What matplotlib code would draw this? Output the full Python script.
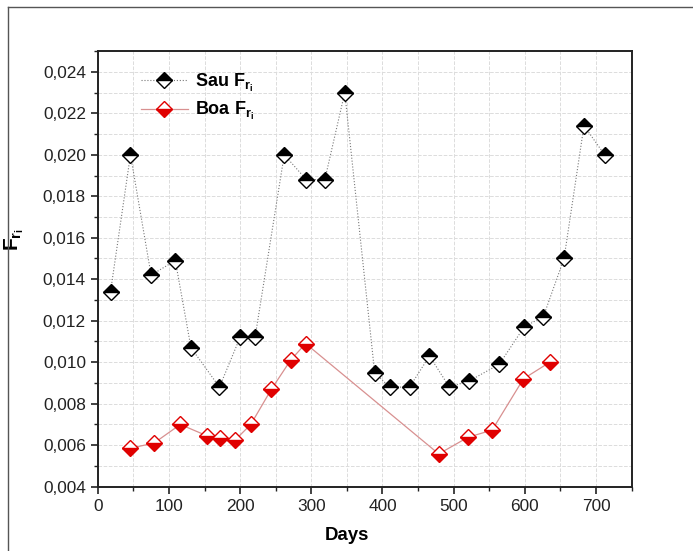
import numpy as np
import matplotlib
matplotlib.use('Agg')
import matplotlib.pyplot as plt
from matplotlib.lines import Line2D
from matplotlib.ticker import MultipleLocator, FuncFormatter

plt.rcParams['font.family'] = ['Liberation Sans', 'DejaVu Sans']
plt.rcParams['mathtext.fontset'] = 'custom'
plt.rcParams['mathtext.rm'] = 'Liberation Sans'
plt.rcParams['mathtext.bf'] = 'Liberation Sans:bold'
plt.rcParams['mathtext.it'] = 'Liberation Sans:italic'

# dias e valores de F_ri para as duas estações
sau_days = [18, 46, 75, 109, 131, 171, 200, 221, 262, 293, 319, 347,
            389, 410, 438, 466, 494, 522, 564, 599, 626, 655, 683, 712]
sau_fr = [0.0134, 0.0200, 0.0142, 0.0149, 0.0107, 0.0088, 0.0112, 0.0112,
          0.0200, 0.0188, 0.0188, 0.0230, 0.0095, 0.0088, 0.0088, 0.0103,
          0.0088, 0.0091, 0.0099, 0.0117, 0.0122, 0.0150, 0.0214, 0.0200]

boa_days = [45, 79, 116, 153, 172, 193, 215, 244, 271, 292,
            479, 520, 554, 598, 635]
boa_fr = [0.00585, 0.0061, 0.0070, 0.00646, 0.00636, 0.00625, 0.0070, 0.0087,
          0.0101, 0.0109, 0.00558, 0.00638, 0.00673, 0.0092, 0.0100]

fig = plt.figure(figsize=(6.93, 5.51), dpi=100)
ax = fig.add_axes([0.141, 0.1167, 0.7705, 0.7907])

ax.plot(sau_days, sau_fr, linestyle=':', color='#777777', linewidth=0.8,
        marker='D', markersize=8.4, fillstyle='top', markerfacecolor='black',
        markerfacecoloralt='white', markeredgecolor='black', markeredgewidth=1.0,
        label=r'Sau $\mathbf{F}_{\mathbf{r}_{\mathbf{i}}}$', zorder=3)
ax.plot(boa_days, boa_fr, linestyle='-', color='#d89090', linewidth=0.9,
        marker='D', markersize=8.4, fillstyle='bottom', markerfacecolor='#e00000',
        markerfacecoloralt='white', markeredgecolor='#e00000', markeredgewidth=1.0,
        label=r'Boa $\mathbf{F}_{\mathbf{r}_{\mathbf{i}}}$', zorder=3)

ax.set_xlim(0, 750)
ax.set_ylim(0.004, 0.025)
ax.xaxis.set_major_locator(MultipleLocator(100))
ax.xaxis.set_minor_locator(MultipleLocator(50))
ax.yaxis.set_major_locator(MultipleLocator(0.002))
ax.yaxis.set_minor_locator(MultipleLocator(0.001))
ax.yaxis.set_major_formatter(FuncFormatter(lambda v, p: f'{v:.3f}'.replace('.', ',')))

ax.grid(True, which='both', linestyle='--', color='#dcdcdc', linewidth=0.7, zorder=0)
ax.set_axisbelow(True)
ax.tick_params(which='both', direction='out', top=False, right=False,
               labelsize=12.4, colors='#222222')
ax.tick_params(which='major', length=5, width=1.2)
ax.tick_params(which='minor', length=3, width=1.0)
for s in ax.spines.values():
    s.set_linewidth(1.4)
    s.set_color('#222222')

ax.set_xlabel('Days', fontsize=13.4, fontweight='bold')
ax.set_ylabel(r'$\mathbf{F}_{\mathbf{r}_{\mathbf{i}}}$', fontsize=15)
ax.xaxis.set_label_coords(0.467, -0.092)
ax.yaxis.set_label_coords(-0.135, 0.567)

leg = ax.legend(loc='upper left', bbox_to_anchor=(0.05, 0.99), frameon=False,
                prop={'weight': 'bold', 'size': 13}, handlelength=2.6,
                labelspacing=0.35, handletextpad=0.4)

# moldura exterior da figura
fig.add_artist(Line2D([8 / 693, 8 / 693], [0, 1 - 7 / 551], transform=fig.transFigure,
                      color='#555555', linewidth=1.0))
fig.add_artist(Line2D([8 / 693, 1], [1 - 7 / 551, 1 - 7 / 551], transform=fig.transFigure,
                      color='#555555', linewidth=1.0))

fig.savefig('out.png', dpi=100)
